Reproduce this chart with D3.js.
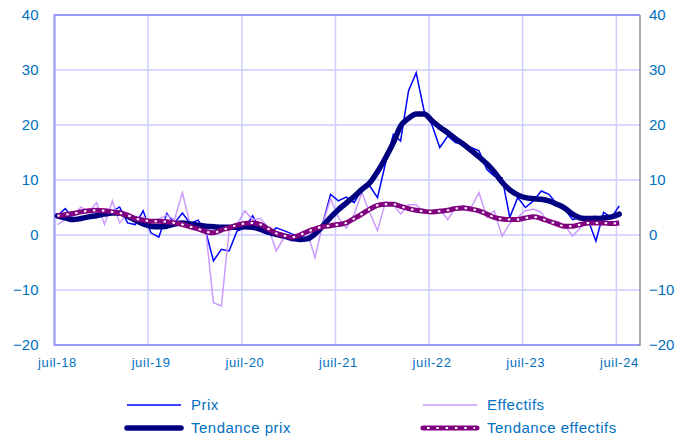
<!DOCTYPE html>
<html>
<head>
<meta charset="utf-8">
<script src="https://cdn.jsdelivr.net/npm/d3@7"></script>
<style>
  body { margin: 0; background: #fff; }
  svg text { font-family: "Liberation Sans", Arial, sans-serif; fill: #0070C0; }
</style>
</head>
<body>
<svg id="chart" width="681" height="441"></svg>
<script>
// monthly series, juil-18 .. juil-24
var months = d3.timeMonth.range(new Date(2018, 6, 1), new Date(2024, 7, 1));

var prix = [
  3.5, 4.8, 2.9, 3.0, 3.3, 3.6, 3.9, 4.3, 5.1, 2.2, 1.9, 4.4,
  0.4, -0.4, 3.9, 2.2, 4.0, 2.1, 2.7, 0.5, -4.7, -2.6, -2.9, 0.7,
  1.3, 3.5, 0.7, 0.1, 1.3, 0.8, 0.2, -0.3, -0.5, 0.3, 2.0, 7.4,
  6.2, 6.9, 5.9, 8.3, 8.9, 6.8, 13.0, 18.3, 17.1, 26.2, 29.5, 22.5,
  20.1, 15.9, 18.0, 16.8, 16.5, 15.9, 15.3, 11.9, 10.7, 10.4, 3.2, 6.8,
  5.0, 6.2, 8.0, 7.4, 5.6, 4.7, 2.8, 3.2, 2.8, -1.1, 4.1, 3.2,
  5.3
];
var effectifs = [
  1.9, 2.8, 3.5, 5.1, 4.1, 5.9, 1.9, 6.2, 2.2, 3.8, 2.8, 3.2,
  2.6, 2.9, 3.6, 2.8, 7.7, 1.9, 1.9, 0.4, -12.3, -12.9, 0.7, 1.9,
  4.4, 2.8, 3.0, 1.3, -2.9, -0.5, -1.1, 0.1, 0.7, -4.1, 1.9, 6.6,
  3.2, 1.2, 3.8, 7.7, 4.0, 0.8, 6.0, 5.6, 3.8, 5.5, 5.5, 4.1,
  4.4, 4.7, 2.8, 5.0, 5.3, 5.0, 7.7, 3.2, 4.4, -0.2, 2.1, 3.2,
  4.4, 4.7, 4.1, 2.1, 2.5, 1.8, -0.2, 1.3, 3.2, 3.5, 2.5, 1.8,
  2.2
];
var tendancePrix = [
  3.5, 3.1, 2.8, 3.0, 3.3, 3.5, 3.8, 4.0, 4.0, 3.4, 2.7, 2.0,
  1.6, 1.5, 1.6, 2.0, 2.2, 2.0, 1.8, 1.6, 1.5, 1.4, 1.4, 1.4,
  1.5, 1.4, 1.0, 0.5, 0.1, -0.2, -0.6, -0.8, -0.7, 0.2, 1.6, 3.2,
  4.6, 5.8, 7.0, 8.3, 9.5, 11.5, 14.0, 16.8, 19.8, 21.2, 22.0, 22.0,
  20.8, 19.6, 18.6, 17.5, 16.5, 15.4, 14.2, 12.9, 11.5, 9.6, 8.2, 7.3,
  6.8, 6.6, 6.5, 6.2, 5.6, 4.9, 3.8, 3.1, 3.0, 3.0, 3.1, 3.3,
  3.8
];
var tendanceEffectifs = [
  3.5, 3.7, 3.9, 4.2, 4.4, 4.5, 4.4, 4.2, 4.0, 3.6, 3.0, 2.7,
  2.5, 2.5, 2.4, 2.2, 1.9, 1.5, 1.1, 0.6, 0.4, 0.9, 1.3, 1.8,
  2.1, 2.2, 1.9, 1.1, 0.3, -0.1, -0.4, 0.0, 0.6, 1.1, 1.5, 1.7,
  1.9, 2.2, 3.0, 3.8, 4.7, 5.4, 5.6, 5.6, 5.2, 4.8, 4.5, 4.3,
  4.2, 4.3, 4.5, 4.8, 4.9, 4.7, 4.4, 3.8, 3.2, 2.9, 2.8, 2.8,
  3.1, 3.3, 3.0, 2.5, 2.0, 1.6, 1.6, 1.9, 2.2, 2.2, 2.2, 2.1,
  2.2
];
var yTicks = [-20, -10, 0, 10, 20, 30, 40];
var xTickYears = [2018, 2019, 2020, 2021, 2022, 2023, 2024];

var svg = d3.select("#chart");
var mL = 54.5, mR = 640, mT = 15, mB = 345;

var x = d3.scaleTime()
  .domain([new Date(2018, 6, 1), new Date(2024, 9, 1)])
  .range([mL, mR]);
var y = d3.scaleLinear().domain([-20, 40]).range([mB, mT]);

var xTicks = xTickYears.map(function (yr) { return new Date(yr, 6, 1); });
var fmt = d3.timeFormat("%y");

// grid
var grid = svg.append("g");
grid.selectAll("line.h").data(yTicks).enter().append("line")
  .attr("x1", mL).attr("x2", mR)
  .attr("y1", function (d) { return y(d); }).attr("y2", function (d) { return y(d); })
  .attr("stroke", "#CCCCFF").attr("stroke-width", 1.5);
grid.selectAll("line.v").data(xTicks).enter().append("line")
  .attr("x1", function (d) { return x(d); }).attr("x2", function (d) { return x(d); })
  .attr("y1", mT).attr("y2", mB)
  .attr("stroke", "#CCCCFF").attr("stroke-width", 1.5);

// frame
svg.append("line").attr("x1", mL).attr("x2", mR).attr("y1", mT).attr("y2", mT)
  .attr("stroke", "#9999FF").attr("stroke-width", 2);
svg.append("line").attr("x1", mL).attr("x2", mR).attr("y1", mB).attr("y2", mB)
  .attr("stroke", "#9999FF").attr("stroke-width", 2);
svg.append("line").attr("x1", mL).attr("x2", mL).attr("y1", mT - 1).attr("y2", mB + 1)
  .attr("stroke", "#9999FF").attr("stroke-width", 2);
svg.append("line").attr("x1", mR).attr("x2", mR).attr("y1", mT).attr("y2", mB + 1)
  .attr("stroke", "#808080").attr("stroke-width", 1.3);

// axes
var yl = d3.axisLeft(y).tickValues(yTicks).tickSize(0).tickPadding(16);
var yr = d3.axisRight(y).tickValues(yTicks).tickSize(0).tickPadding(9);
var xb = d3.axisBottom(x).tickValues(xTicks).tickSize(0).tickPadding(13)
  .tickFormat(function (d) { return "juil-" + fmt(d); });

function styleAxis(g, size) {
  g.select(".domain").remove();
  g.selectAll("text").style("font-size", size + "px").attr("fill", "#0070C0");
}
svg.append("g").attr("transform", "translate(" + mL + ",0)").call(yl).call(styleAxis, 15);
svg.append("g").attr("transform", "translate(" + mR + ",0)").call(yr).call(styleAxis, 15);
var xa = svg.append("g").attr("transform", "translate(0," + mB + ")").call(xb).call(styleAxis, 13);
xa.selectAll("text").attr("dx", 2.5).style("letter-spacing", "0.6px");

// series: points sit a little inside each month
function px(d, i) { return x(d3.timeDay.offset(months[i], 11)); }
var line = d3.line().x(px).y(function (d) { return y(d); });
var smooth = d3.line().x(px).y(function (d) { return y(d); }).curve(d3.curveMonotoneX);

svg.append("path").datum(prix).attr("d", line)
  .attr("fill", "none").attr("stroke", "#0000FF").attr("stroke-width", 1.5);
svg.append("path").datum(effectifs).attr("d", line)
  .attr("fill", "none").attr("stroke", "#CC99FF").attr("stroke-width", 1.5);
svg.append("path").datum(tendancePrix).attr("d", smooth)
  .attr("fill", "none").attr("stroke", "#000080").attr("stroke-width", 5.5)
  .attr("stroke-linejoin", "round").attr("stroke-linecap", "round");
svg.append("path").datum(tendanceEffectifs).attr("d", smooth)
  .attr("fill", "none").attr("stroke", "#800080").attr("stroke-width", 5)
  .attr("stroke-linejoin", "round");
svg.append("path").datum(tendanceEffectifs).attr("d", smooth)
  .attr("fill", "none").attr("stroke", "#fff").attr("stroke-width", 2)
  .attr("stroke-dasharray", "2.5,6.5");

// legend
var legend = [
  { name: "Prix", x: 127, y: 405, color: "#0000FF", w: 1.5 },
  { name: "Effectifs", x: 423, y: 405, color: "#CC99FF", w: 1.5 },
  { name: "Tendance prix", x: 127, y: 428, color: "#000080", w: 5.5, cap: "round" },
  { name: "Tendance effectifs", x: 423, y: 428, color: "#800080", w: 5, cap: "round", dots: true }
];
var lg = svg.append("g").selectAll("g").data(legend).enter().append("g");
lg.append("line")
  .attr("x1", function (d) { return d.x; }).attr("x2", function (d) { return d.x + 54; })
  .attr("y1", function (d) { return d.y; }).attr("y2", function (d) { return d.y; })
  .attr("stroke", function (d) { return d.color; })
  .attr("stroke-width", function (d) { return d.w; })
  .attr("stroke-linecap", function (d) { return d.cap || "butt"; });
lg.filter(function (d) { return d.dots; }).append("line")
  .attr("x1", function (d) { return d.x + 4; }).attr("x2", function (d) { return d.x + 52; })
  .attr("y1", function (d) { return d.y; }).attr("y2", function (d) { return d.y; })
  .attr("stroke", "#fff").attr("stroke-width", 2).attr("stroke-dasharray", "2.5,6.8");
lg.append("text")
  .attr("x", function (d) { return d.x + 64; })
  .attr("y", function (d) { return d.y; })
  .attr("dy", "0.35em")
  .style("font-size", "15px")
  .style("letter-spacing", "0.5px")
  .text(function (d) { return d.name; });
</script>
</body>
</html>
